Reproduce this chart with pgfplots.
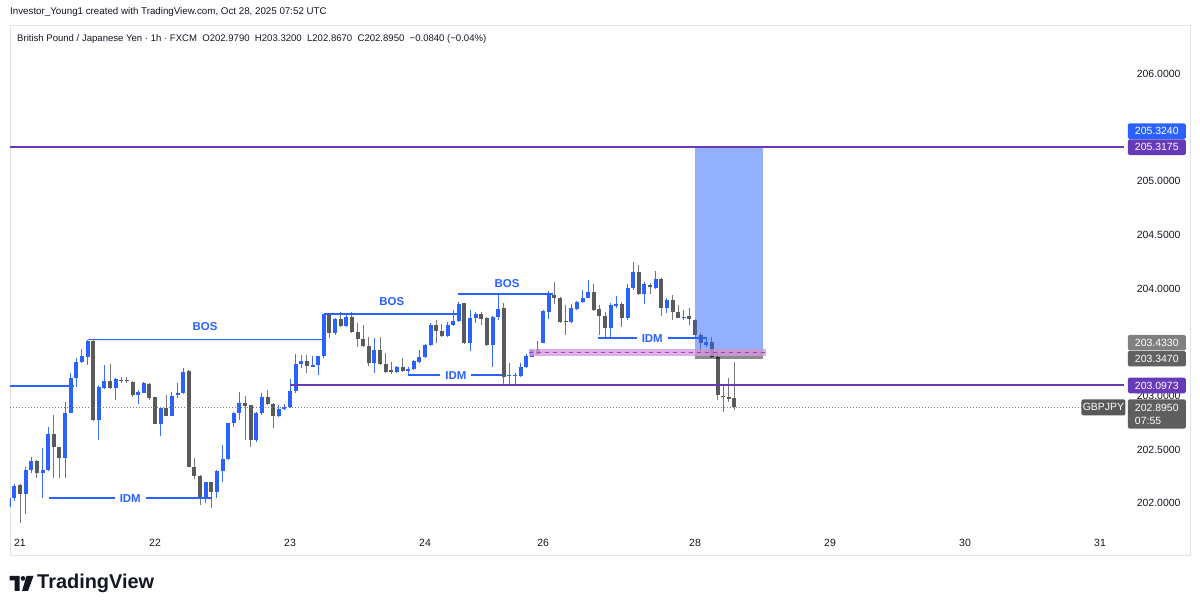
\documentclass[border=0pt]{standalone}
\usepackage{pgfplots}
\pgfplotsset{compat=1.18}
\usepackage{pgfplotstable}
\usepackage{fontspec}
\setmainfont{Liberation Sans}

\definecolor{tvtext}{HTML}{131722}
\definecolor{tvblue}{HTML}{2962FF}
\definecolor{tvwickblue}{HTML}{3D6FFF}
\definecolor{tvdown}{HTML}{5A5A5A}
\definecolor{tvwickdown}{HTML}{767676}
\definecolor{tvpurple}{HTML}{673AB7}
\definecolor{tvframe}{HTML}{E0E3EB}
\definecolor{zonepink}{HTML}{D49BE0}
\definecolor{zonedash}{HTML}{A63DBF}
\definecolor{tvdot}{HTML}{787B86}

% hourly GBPJPY candles, x = hours since Oct 21 00:00 (weekend gap removed)
\pgfplotstableread{
i o h l c
-2 201.968 202.055 201.960 202.045
-1 202.045 202.179 202.023 202.163
1 202.083 202.340 201.896 202.309
2 202.309 202.434 202.278 202.393
4 202.284 202.511 202.045 202.309
5 202.309 202.713 202.300 202.645
8 202.424 202.946 202.232 202.844
9 202.844 203.216 202.838 203.170
10 203.170 203.350 203.086 203.319
11 203.313 203.434 203.303 203.372
12 203.366 203.521 203.288 203.511
14 202.775 203.101 202.589 203.080
15 203.070 203.288 203.068 203.142
17 203.070 203.164 202.962 203.154
21 203.008 203.055 202.924 203.039
22 203.030 203.133 203.024 203.117
25 202.738 202.893 202.626 202.890
27 202.813 203.039 202.810 203.002
28 203.008 203.117 202.977 203.030
29 203.024 203.257 203.020 203.226
33 202.045 202.201 201.999 202.195
35 202.101 202.310 202.045 202.300
36 202.300 202.543 202.201 202.412
37 202.412 202.751 202.403 202.744
38 202.744 202.853 202.713 202.838
39 202.838 203.040 202.775 202.937
42 202.589 202.853 202.574 202.838
43 202.838 203.030 202.822 202.993
46 202.813 202.915 202.807 202.878
47 202.878 202.925 202.869 202.900
48 202.894 203.154 202.884 203.046
49 203.046 203.387 203.024 203.297
50 203.297 203.381 203.257 203.325
52 203.273 203.372 203.266 203.288
53 203.288 203.372 203.195 203.372
54 203.372 203.763 203.350 203.763
56 203.583 203.723 203.568 203.714
58 203.655 203.754 203.645 203.739
63 203.303 203.536 203.210 203.427
67 203.219 203.281 203.210 203.272
69 203.235 203.272 203.185 203.250
70 203.250 203.334 203.241 203.328
71 203.319 203.427 203.309 203.365
72 203.365 203.483 203.350 203.474
73 203.474 203.676 203.465 203.660
76 203.561 203.692 203.552 203.660
77 203.660 203.800 203.651 203.701
78 203.701 203.875 203.692 203.856
80 203.490 203.800 203.421 203.723
81 203.723 203.785 203.676 203.763
84 203.474 203.744 203.272 203.738
85 203.738 203.940 203.707 203.810
87 203.183 203.304 203.102 203.191
88 203.186 203.211 203.102 203.194
89 203.186 203.304 203.180 203.273
90 203.267 203.391 203.257 203.372
91 203.366 203.437 203.360 203.428
93 203.496 203.800 203.490 203.795
94 203.785 203.975 203.714 203.962
98 203.692 203.853 203.676 203.816
99 203.810 203.880 203.800 203.878
100 203.872 203.987 203.863 203.915
101 203.915 204.080 203.909 203.965
105 203.636 203.863 203.536 203.847
106 203.841 203.934 203.816 203.853
108 203.723 204.040 203.707 204.009
109 204.002 204.245 203.987 204.151
111 203.946 204.064 203.853 204.040
113 204.002 204.164 204.000 204.089
115 203.822 203.909 203.769 203.894
118 203.723 203.800 203.707 203.738
122 203.474 203.552 203.459 203.505
}\upcandles

\pgfplotstableread{
i o h l c
0 202.170 202.179 201.818 202.083
3 202.393 202.403 202.232 202.284
6 202.645 202.822 202.232 202.521
7 202.521 202.527 202.232 202.424
13 203.511 203.521 202.770 202.775
16 203.142 203.294 203.061 203.070
18 203.151 203.179 203.123 203.142
19 203.148 203.173 203.117 203.139
20 203.133 203.142 202.993 203.008
23 203.111 203.123 202.962 202.977
24 202.986 202.993 202.735 202.738
26 202.890 203.008 202.810 202.813
30 203.235 203.241 202.335 202.340
31 202.334 202.418 202.226 202.257
32 202.257 202.262 201.985 202.045
34 202.195 202.201 201.952 202.101
40 202.937 202.999 202.589 202.906
41 202.915 202.918 202.521 202.589
44 202.993 203.055 202.915 202.921
45 202.921 202.931 202.698 202.813
51 203.325 203.381 203.210 203.282
55 203.763 203.768 203.537 203.583
57 203.714 203.785 203.645 203.655
59 203.739 203.785 203.589 203.599
60 203.599 203.676 203.459 203.527
61 203.527 203.661 203.459 203.465
62 203.465 203.552 203.279 203.310
64 203.427 203.552 203.288 203.297
65 203.297 203.396 203.216 203.226
66 203.241 203.319 203.204 203.219
68 203.266 203.350 203.226 203.235
74 203.660 203.707 203.496 203.608
75 203.608 203.670 203.552 203.561
79 203.862 203.869 203.483 203.490
82 203.763 203.785 203.660 203.713
83 203.723 203.738 203.465 203.474
86 203.816 203.869 203.101 203.173
92 203.434 203.515 203.381 203.391
95 203.941 204.059 203.854 203.910
96 203.915 203.920 203.676 203.692
97 203.700 203.847 203.567 203.692
102 203.965 204.040 203.791 203.800
103 203.810 203.847 203.567 203.748
104 203.748 203.785 203.536 203.636
107 203.853 203.878 203.645 203.723
110 204.151 204.220 203.940 203.946
112 204.033 204.055 203.946 204.012
114 204.089 204.096 203.748 203.822
116 203.894 203.940 203.707 203.779
117 203.779 203.847 203.723 203.729
119 203.745 203.816 203.661 203.713
120 203.707 203.713 203.552 203.567
121 203.567 203.583 203.412 203.490
123 203.505 203.552 203.350 203.366
124 203.366 203.412 202.962 203.008
125 202.998 203.101 202.853 202.990
126 202.993 203.170 202.946 202.971
127 202.979 203.320 202.867 202.895
}\downcandles

\tikzset{
  smc/.style={text=tvblue, font=\fontsize{11.5}{13}\bfseries},
  pricebox/.style={fill=#1, text=white, font=\fontsize{10.5}{12}\selectfont,
    minimum width=58bp, minimum height=15.6bp, inner sep=0pt,
    rounded corners=1.5bp, anchor=east},
}
\pgfplotsset{
  candlepart/.style n args={2}{draw=none, mark=none, forget plot,
    error bars/.cd, y dir=minus, y explicit, error mark=none,
    error bar style={draw=#1, line width=#2}},
}

\begin{document}
\begin{tikzpicture}
\path[use as bounding box, fill=white] (0,0) rectangle (1200bp,613bp);

\node[anchor=west, inner sep=0pt, text=tvtext, font=\fontsize{9.8}{12}\selectfont]
  at (10bp,601bp) {Investor\_Young1 created with TradingView.com, Oct 28, 2025 07:52 UTC};

\begin{axis}[
  at={(10bp,58bp)}, anchor=south west,
  width=1180bp, height=530bp, scale only axis,
  xmin=-1.778, xmax=208, ymin=201.5172, ymax=206.4567,
  axis line style={draw=tvframe, line width=0.8bp},
  major tick length=0pt,
  xtick={0,24,48,72,93,120,144,168,192},
  xticklabels={21,22,23,24,26,28,29,30,31},
  xticklabel style={anchor=center, yshift=12bp, text=tvtext,
    font=\fontsize{10.5}{12}\selectfont},
  ytick={202,202.5,203,204,204.5,205,206},
  yticklabel pos=right,
  yticklabel style={anchor=east, xshift=-6bp, text=tvtext,
    font=\fontsize{10.5}{12}\selectfont,
    /pgf/number format/.cd, fixed, fixed zerofill, precision=4,
    assume math mode=true, 1000 sep={}},
]

% candles: wicks, then bodies
\addplot[candlepart={tvwickblue}{1bp}]
  table[x=i, y=h, y error minus expr=\thisrow{h}-\thisrow{l}] {\upcandles};
\addplot[candlepart={tvwickdown}{1bp}]
  table[x=i, y=h, y error minus expr=\thisrow{h}-\thisrow{l}] {\downcandles};
\addplot[candlepart={tvblue}{4bp}]
  table[x=i, y=c, y error minus expr=\thisrow{c}-\thisrow{o}] {\upcandles};
\addplot[candlepart={tvdown}{4bp}]
  table[x=i, y=o, y error minus expr=\thisrow{o}-\thisrow{c}] {\downcandles};

% long position: target and stop zones
\addplot[draw=none, fill=tvblue, fill opacity=0.5]
  coordinates {(120,203.433) (132.1,203.433) (132.1,205.324) (120,205.324)} --cycle;
\addplot[draw=none, fill=black, fill opacity=0.45]
  coordinates {(120,203.347) (132.1,203.347) (132.1,203.433) (120,203.433)} --cycle;

% demand band with its mid line
\addplot[draw=none, fill=zonepink, fill opacity=0.8]
  coordinates {(90.4,203.372) (132.7,203.372) (132.7,203.437) (90.4,203.437)} --cycle;
\addplot[zonedash, line width=1.4bp, dash pattern=on 4bp off 4bp]
  coordinates {(90.4,203.405) (132.7,203.405)};

% horizontal levels
\addplot[tvpurple, line width=2bp] coordinates {(-1.8,205.3175) (196.3,205.3175)};
\addplot[tvpurple, line width=2bp] coordinates {(48,203.0973) (196.3,203.0973)};
\addplot[tvdot, line width=0.8bp, dash pattern=on 1bp off 2bp]
  coordinates {(-1.8,202.895) (188.8,202.895)};

% structure markings
\addplot[tvblue, line width=1.8bp] coordinates {(-1.8,203.094) (9.6,203.094)};
\addplot[tvblue, line width=1.8bp] coordinates {(12,203.525) (53.9,203.525)};
\addplot[tvblue, line width=1.8bp] coordinates {(54,203.763) (77.6,203.763)};
\addplot[tvblue, line width=1.8bp] coordinates {(77.9,203.946) (94.8,203.946)};
\addplot[tvblue, line width=1.8bp] coordinates {(5.2,202.045) (34.1,202.045)};
\addplot[tvblue, line width=1.8bp] coordinates {(69,203.194) (85.6,203.194)};
\addplot[tvblue, line width=1.8bp] coordinates {(102.8,203.536) (122.1,203.536)};

\node[smc] at (32.9,203.642) {BOS};
\node[smc] at (66.1,203.875) {BOS};
\node[smc] at (86.6,204.043) {BOS};
\node[smc, fill=white, inner xsep=5bp, inner ysep=1bp] at (19.6,202.045) {IDM};
\node[smc, fill=white, inner xsep=5bp, inner ysep=1bp] at (77.5,203.194) {IDM};
\node[smc, fill=white, inner xsep=5bp, inner ysep=1bp] at (112.4,203.536) {IDM};

\coordinate (r205) at (208,205.3175);
\coordinate (r2033) at (208,203.347);
\coordinate (r2030) at (208,203.0973);
\coordinate (r2028) at (208,202.895);
\coordinate (hdr) at (-1.778,206.4567);
\end{axis}

\node[anchor=west, inner sep=0pt, text=tvtext, font=\fontsize{9.6}{12}\selectfont]
  at ([xshift=7bp,yshift=-14bp]hdr) {British Pound / Japanese Yen · 1h · FXCM\ \ O202.9790\ \ H203.3200\ \ L202.8670\ \ C202.8950\ \ −0.0840 (−0.04\%)};

% price scale labels
\node[pricebox=tvpurple] (b1) at ([xshift=-4bp]r205) {205.3175};
\node[pricebox=tvblue, anchor=south east] at (b1.north east) {205.3240};
\node[pricebox=black!62] (b3) at ([xshift=-4bp]r2033) {203.3470};
\node[pricebox=black!50, anchor=south east] at (b3.north east) {203.4330};
\node[pricebox=tvpurple] at ([xshift=-4bp]r2030) {203.0973};
\node[pricebox=black!63, anchor=north east, minimum height=29.3bp, align=left,
  font=\fontsize{10.5}{13}\selectfont] (b5) at ([xshift=-4bp,yshift=8bp]r2028) {202.8950\\07:55};
\node[pricebox=black!65, anchor=north east, minimum width=44bp, minimum height=16bp]
  at ([xshift=-2bp]b5.north west) {GBPJPY};

% footer logo
\fill[tvtext] (9.5bp,37bp) -- (19.5bp,37bp) -- (19.5bp,22bp) -- (14.5bp,22bp) -- (14.5bp,32.5bp) -- (9.5bp,32.5bp) -- cycle;
\fill[tvtext] (23bp,34.6bp) circle (2.4bp);
\fill[tvtext] (26.5bp,37bp) -- (33.5bp,37bp) -- (28bp,22bp) -- (22bp,22bp) -- cycle;
\node[anchor=west, inner sep=0pt, text=tvtext, font=\fontsize{20}{22}\bfseries]
  at (37bp,29.5bp) {TradingView};
\end{tikzpicture}
\end{document}
